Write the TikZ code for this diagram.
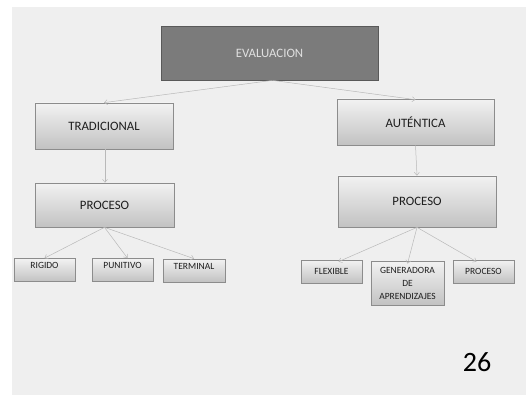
\documentclass[tikz,border=0pt]{standalone}
\usepackage{fontspec}
\setmainfont{Carlito}
\usetikzlibrary{arrows.meta}

\definecolor{panelgray}{HTML}{EFEFEF}
\definecolor{boxline}{HTML}{8C8C8C}
\definecolor{boxtop}{HTML}{F2F2F2}
\definecolor{boxbottom}{HTML}{C2C2C2}
\definecolor{topfill}{HTML}{7B7B7B}
\definecolor{inktext}{HTML}{1E1E1E}

\tikzset{
  conceptbox/.style={draw=boxline, line width=0.7pt, top color=boxtop, bottom color=boxbottom,
    inner sep=0pt, text=inktext, font=\fontsize{12.8}{15}\selectfont},
  leafbox/.style={conceptbox, minimum height=23pt, minimum width=61pt, align=center,
    font=\fontsize{9.5}{13}\selectfont},
  link/.style={draw=gray!55, line width=0.5pt, -{Straight Barb[length=3pt,width=5pt]}}
}

\begin{document}
\begin{tikzpicture}[x=1pt,y=-1pt]
  \useasboundingbox (0,0) rectangle (526,395);
  \fill[white] (0,0) rectangle (526,395);
  \fill[panelgray] (12,7) rectangle (526,395);

  % top of the map
  \node[draw=black!65, line width=0.7pt, fill=topfill, text=white!88!black, inner sep=0pt,
    minimum width=217pt, minimum height=54pt, font=\fontsize{12.8}{15}\selectfont]
    (evaluacion) at (269.5,53) {EVALUACION};

  % two branches
  \node[conceptbox, minimum width=138pt, minimum height=46pt] (tradicional) at (104,126) {TRADICIONAL};
  \node[conceptbox, minimum width=157pt, minimum height=46pt] (autentica) at (415.5,122) {AUTÉNTICA};
  \node[conceptbox, minimum width=139pt, minimum height=44pt] (procesoT) at (104.5,205) {PROCESO};
  \node[conceptbox, minimum width=158pt, minimum height=51pt] (procesoA) at (417,201.5) {PROCESO};

  % leaves
  \node[leafbox, text depth=9pt] (rigido) at (44.5,270) {RIGIDO};
  \node[leafbox, text depth=9pt] (punitivo) at (122.5,270) {PUNITIVO};
  \node[leafbox, minimum width=62pt, text depth=8pt] (terminal) at (194,270.5) {TERMINAL};
  \node[leafbox] (flexible) at (331.5,271.5) {FLEXIBLE};
  \node[leafbox, minimum width=73pt, minimum height=44pt] (generadora) at (407.5,283) {GENERADORA\\DE\\APRENDIZAJES};
  \node[leafbox] (procesoB) at (483.5,271.5) {PROCESO};

  \draw[link] ([xshift=3pt]evaluacion.south) -- (tradicional.north);
  \draw[link] ([xshift=3pt]evaluacion.south) -- ([yshift=-1pt]autentica.north);
  \draw[link] ([xshift=1pt]tradicional.south) -- ([xshift=0.5pt]procesoT.north);
  \draw[link] (autentica.south) -- (procesoA.north);

  \draw[link] (procesoT.south) -- (rigido.north);
  \draw[link] (procesoT.south) -- ([xshift=5pt]punitivo.north);
  \draw[link] (procesoT.south) -- (terminal.north);
  \draw[link] (procesoA.south) -- ([xshift=7pt,yshift=-2pt]flexible.north);
  \draw[link] (procesoA.south) -- ([yshift=-3pt]generadora.north);
  \draw[link] (procesoA.south) -- ([xshift=-7pt,yshift=-2pt]procesoB.north);

  \node[font=\fontsize{28}{30}\selectfont, text=black, inner sep=0pt] (pagina) at (477,362) {26};
\end{tikzpicture}
\end{document}
